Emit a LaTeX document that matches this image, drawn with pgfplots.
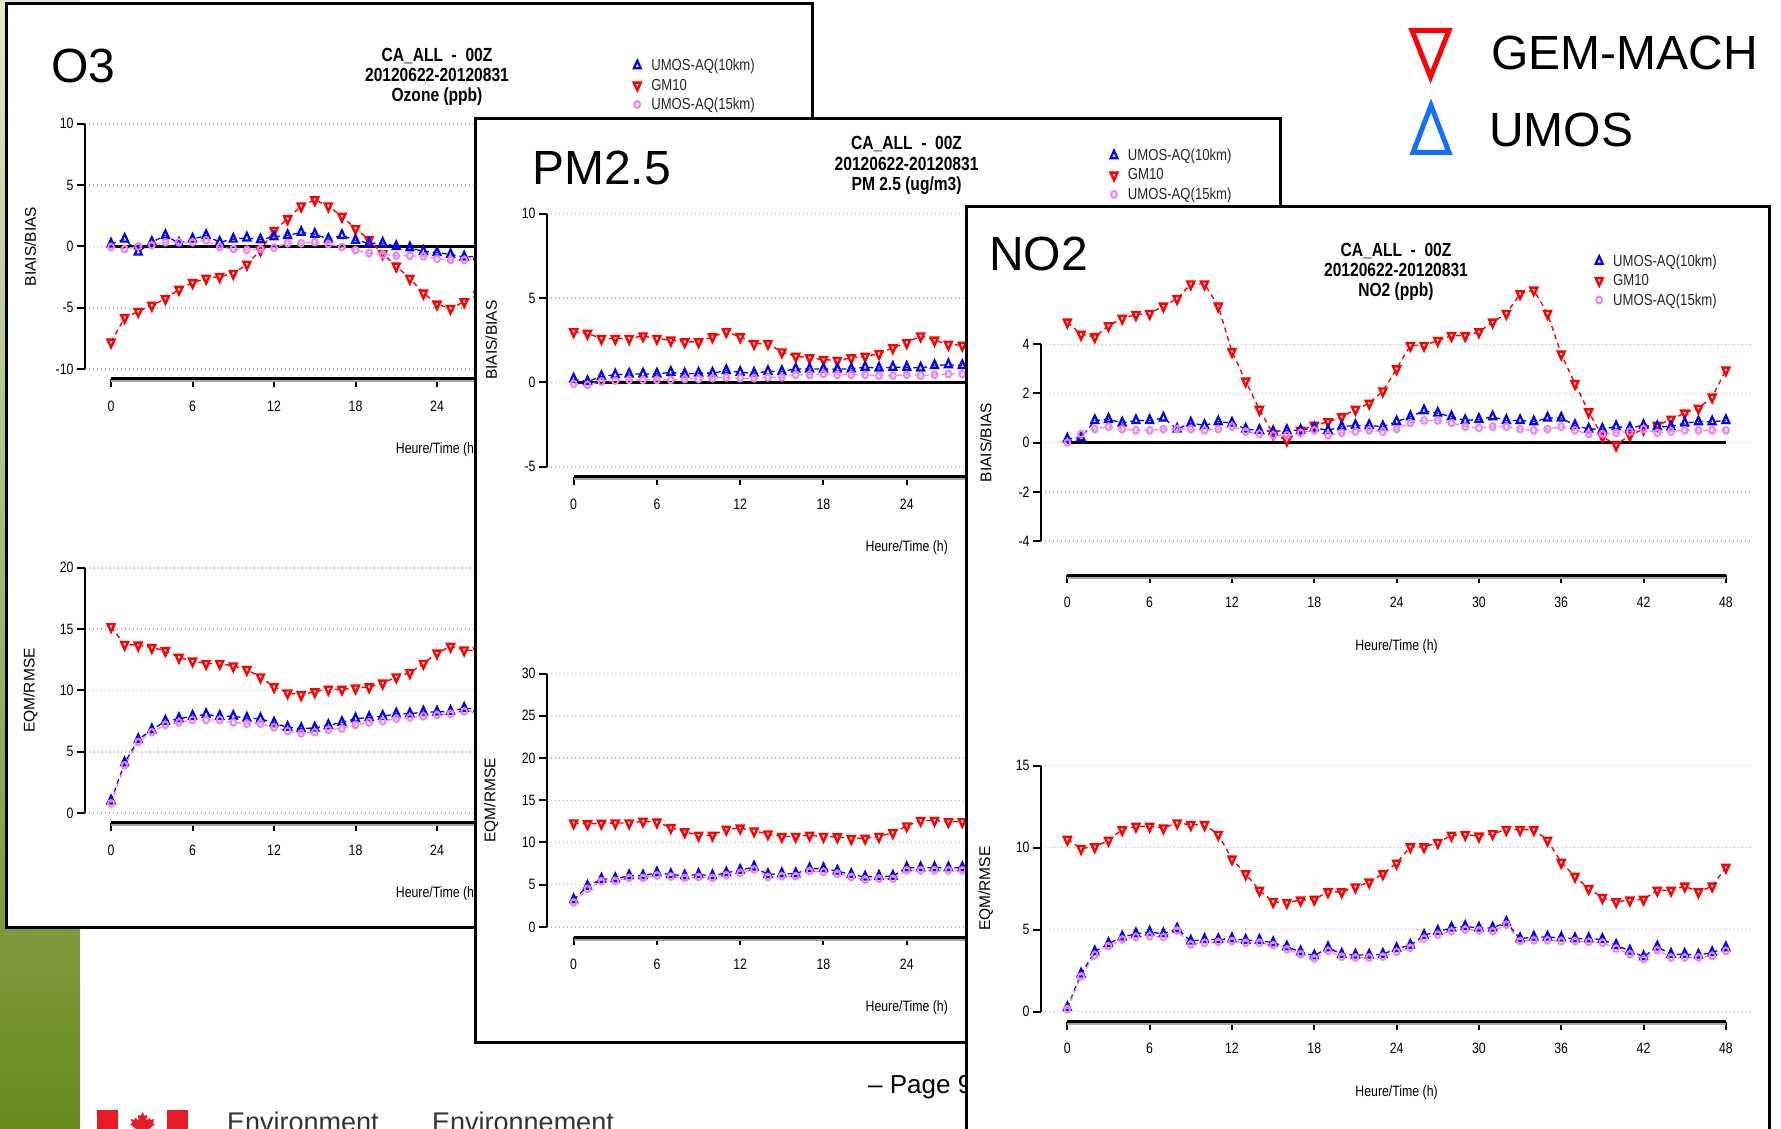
\documentclass[border=0pt]{standalone}
\usepackage{fontspec}
\setmainfont{Liberation Sans}
\newfontfamily\rfont[FakeStretch=0.82]{Liberation Sans}
\usepackage{pgfplots}
\usepackage{pgfplotstable}
\pgfplotsset{compat=1.18}

\definecolor{rblue}{RGB}{0,0,255}
\definecolor{rred}{RGB}{255,0,0}
\definecolor{rviolet}{RGB}{238,130,238}
\definecolor{lblue}{RGB}{20,110,255}
\definecolor{cared}{RGB}{232,27,40}
\definecolor{gtop}{RGB}{226,231,206}
\definecolor{gmid}{RGB}{150,172,80}
\definecolor{gbot}{RGB}{104,138,30}

% h  u10 (UMOS-AQ 10km)  gm (GM10)  u15 (UMOS-AQ 15km)
\pgfplotstableread{
h u10 gm u15
0 0.2 -7.8 -0.05
1 0.6 -5.8 -0.2
2 -0.45 -5.3 0.0
3 0.35 -4.8 0.1
4 0.9 -4.25 0.35
5 0.27 -3.5 0.35
6 0.6 -2.95 0.35
7 0.9 -2.6 0.5
8 0.35 -2.45 -0.05
9 0.6 -2.2 -0.2
10 0.7 -1.45 -0.27
11 0.55 -0.3 -0.2
12 0.8 1.3 -0.1
13 0.9 2.25 0.27
14 1.15 3.3 0.27
15 1.0 3.8 0.35
16 0.6 3.3 0.2
17 0.9 2.45 -0.05
18 0.5 1.45 -0.3
19 0.27 0.55 -0.55
20 0.27 -0.6 -0.65
21 0.0 -1.6 -0.75
22 -0.1 -2.6 -0.75
23 -0.4 -3.8 -0.8
24 -0.5 -4.7 -1.0
25 -0.65 -5.05 -1.1
26 -0.85 -4.5 -1.1
27 -0.8 -3.9 -1.1
}\othreebias

\pgfplotstableread{
h u10 gm u15
0 1.0 15.2 0.8
1 4.1 13.75 3.9
2 6.0 13.7 5.8
3 6.8 13.5 6.6
4 7.5 13.25 7.2
5 7.7 12.7 7.4
6 7.9 12.4 7.6
7 8.05 12.2 7.6
8 7.9 12.2 7.6
9 7.9 12.0 7.4
10 7.75 11.7 7.3
11 7.7 11.1 7.3
12 7.35 10.3 7.0
13 7.0 9.8 6.7
14 6.9 9.65 6.5
15 6.95 9.9 6.6
16 7.15 10.1 6.8
17 7.4 10.1 6.9
18 7.7 10.2 7.2
19 7.8 10.3 7.4
20 7.9 10.6 7.5
21 8.1 11.1 7.7
22 8.1 11.45 7.8
23 8.25 12.2 7.9
24 8.25 13.05 8.0
25 8.3 13.6 8.1
26 8.55 13.3 8.3
27 8.5 13.25 8.3
}\othreermse

\pgfplotstableread{
h u10 gm u15
0 0.2 3.0 -0.08
1 0.05 2.9 -0.15
2 0.35 2.6 0.05
3 0.45 2.6 0.1
4 0.5 2.6 0.15
5 0.5 2.75 0.15
6 0.5 2.6 0.15
7 0.6 2.5 0.15
8 0.5 2.4 0.2
9 0.55 2.4 0.2
10 0.55 2.7 0.25
11 0.7 3.0 0.3
12 0.6 2.7 0.25
13 0.55 2.3 0.25
14 0.65 2.3 0.3
15 0.65 1.8 0.3
16 0.8 1.55 0.45
17 0.8 1.45 0.45
18 0.8 1.35 0.5
19 0.8 1.3 0.45
20 0.8 1.45 0.45
21 0.9 1.55 0.45
22 0.85 1.7 0.4
23 0.9 2.05 0.4
24 0.9 2.35 0.45
25 0.85 2.75 0.4
26 1.0 2.5 0.45
27 1.05 2.25 0.5
28 1.0 2.2 0.5
}\pmbias

\pgfplotstableread{
h u10 gm u15
0 3.2 12.3 2.9
1 4.8 12.2 4.5
2 5.65 12.25 5.4
3 5.7 12.3 5.45
4 6.05 12.3 5.8
5 6.05 12.5 5.8
6 6.4 12.4 6.1
7 6.2 11.75 5.95
8 6.05 11.25 5.8
9 6.2 10.85 5.9
10 6.05 10.85 5.8
11 6.4 11.55 6.1
12 6.7 11.7 6.4
13 7.1 11.35 6.8
14 6.2 11.0 5.9
15 6.3 10.7 6.0
16 6.3 10.7 6.0
17 6.9 10.85 6.6
18 6.9 10.7 6.5
19 6.6 10.65 6.3
20 6.2 10.45 5.9
21 5.9 10.5 5.6
22 6.0 10.7 5.7
23 6.0 11.15 5.7
24 7.0 11.95 6.7
25 7.0 12.6 6.7
26 7.0 12.6 6.7
27 7.0 12.45 6.7
28 7.0 12.45 6.7
}\pmrmse

\pgfplotstableread{
h u10 gm u15
0 0.15 4.9 0.0
1 0.2 4.4 0.35
2 0.9 4.3 0.55
3 0.95 4.75 0.65
4 0.8 5.05 0.55
5 0.9 5.2 0.5
6 0.9 5.25 0.5
7 1.0 5.55 0.55
8 0.55 5.85 0.55
9 0.8 6.45 0.55
10 0.7 6.45 0.5
11 0.85 5.55 0.55
12 0.8 3.7 0.65
13 0.55 2.5 0.45
14 0.5 1.35 0.35
15 0.45 0.35 0.3
16 0.5 0.1 0.3
17 0.5 0.5 0.4
18 0.6 0.7 0.5
19 0.5 0.85 0.3
20 0.65 1.05 0.4
21 0.7 1.35 0.45
22 0.7 1.6 0.5
23 0.65 2.1 0.45
24 0.85 3.0 0.55
25 1.05 3.95 0.8
26 1.3 3.95 0.9
27 1.2 4.15 0.9
28 1.05 4.35 0.8
29 0.9 4.35 0.65
30 0.95 4.5 0.6
31 1.05 4.9 0.65
32 0.9 5.25 0.65
33 0.9 6.05 0.55
34 0.85 6.2 0.5
35 1.0 5.25 0.55
36 1.0 3.6 0.65
37 0.7 2.4 0.5
38 0.55 1.25 0.35
39 0.55 0.25 0.35
40 0.65 -0.1 0.4
41 0.6 0.3 0.45
42 0.7 0.55 0.55
43 0.65 0.7 0.4
44 0.65 0.95 0.45
45 0.8 1.2 0.5
46 0.85 1.4 0.5
47 0.85 1.85 0.5
48 0.9 2.95 0.5
}\notwobias

\pgfplotstableread{
h u10 gm u15
0 0.25 10.5 0.15
1 2.3 9.95 2.15
2 3.65 10.05 3.45
3 4.15 10.45 4.0
4 4.55 11.1 4.4
5 4.75 11.3 4.55
6 4.85 11.3 4.6
7 4.75 11.2 4.55
8 5.05 11.5 4.95
9 4.3 11.4 4.1
10 4.4 11.4 4.2
11 4.4 10.8 4.25
12 4.45 9.3 4.3
13 4.35 8.4 4.2
14 4.35 7.4 4.2
15 4.2 6.7 4.05
16 3.95 6.65 3.8
17 3.65 6.8 3.5
18 3.4 6.85 3.25
19 3.9 7.3 3.7
20 3.5 7.3 3.35
21 3.45 7.6 3.3
22 3.45 7.9 3.3
23 3.5 8.4 3.35
24 3.85 9.05 3.65
25 4.05 10.05 3.9
26 4.65 10.05 4.45
27 4.9 10.3 4.7
28 5.1 10.75 4.9
29 5.2 10.8 5.0
30 5.1 10.7 4.95
31 5.1 10.85 4.9
32 5.45 11.1 5.3
33 4.45 11.1 4.3
34 4.55 11.1 4.35
35 4.55 10.45 4.35
36 4.5 9.1 4.3
37 4.45 8.25 4.3
38 4.45 7.5 4.25
39 4.4 6.95 4.2
40 4.05 6.7 3.85
41 3.7 6.8 3.5
42 3.35 6.85 3.2
43 3.95 7.4 3.75
44 3.5 7.4 3.3
45 3.5 7.65 3.3
46 3.45 7.3 3.3
47 3.6 7.65 3.4
48 3.9 8.8 3.7
}\notwormse

\pgfplotsset{
  rplot/.style={
    scale only axis, clip=false,
    axis lines*=left, axis line style={draw=none},
    xmin=-1.92, xmax=49.92, xtick={0,6,...,48},
    tick align=outside, major tick length=8pt,
    tick style={black, line width=2pt},
    ymajorgrids, major grid style={gray!55, line width=1.4pt, dash pattern=on 1.4pt off 2.6pt},
    /pgf/number format/assume math mode=true,
    ticklabel style={font=\rfont\fontsize{15}{15}\selectfont},
    xticklabel style={yshift=-10pt},
    xlabel={Heure/Time (h)},
    every axis x label/.style={at={(axis description cs:0.5,0)}, anchor=center, yshift=-71pt,
      font=\rfont\fontsize{15}{15}\selectfont},
    every axis y label/.style={at={(axis description cs:-0.0775,0.5)}, rotate=90, anchor=center,
      font=\fontsize{15.5}{15.5}\selectfont},
    legend cell align=left,
    legend image code/.code={\draw[mark repeat=2,mark phase=2,##1] plot coordinates {(0pt,0pt)(6pt,0pt)(12pt,0pt)};},
    legend style={draw=none, fill=none, inner sep=0pt, row sep=3.5pt, column sep=9pt, anchor=north west,
      text=black!85, font=\rfont\fontsize{16}{16}\selectfont, nodes={inner sep=1.5pt}},
  },
  gm/.style={rred, line width=1.4pt, dash pattern=on 5pt off 4pt, mark=triangle*, mark size=5pt,
    mark options={solid, rotate=180, xscale=0.8, draw=rred, fill=white, line width=2.4pt}},
  uten/.style={rblue, line width=1.3pt, dash pattern=on 5pt off 4pt, mark=triangle, mark size=5pt,
    mark options={solid, xscale=0.8, line width=2.2pt}},
  ufif/.style={rviolet, line width=1.3pt, dash pattern=on 5pt off 4pt, mark=o, mark size=3.4pt,
    mark options={solid, xscale=0.85, line width=2pt}},
}

% R style axis lines: y axis from first to last tick, x axis from 0 to 48
\newcommand{\raxes}[3]{%
  \draw[black, line width=2pt] (axis cs:-1.92,#1) -- (axis cs:-1.92,#2);
  \draw[black!35, line width=2pt] ([yshift=-2.5pt]axis cs:0,#3) -- ([yshift=-2.5pt]axis cs:48,#3);
  \draw[black, line width=3pt] (axis cs:0,#3) -- (axis cs:48,#3);
}
\newcommand{\rlegend}{%
  \addlegendimage{uten, only marks}\addlegendentry{UMOS-AQ(10km)}
  \addlegendimage{gm, only marks}\addlegendentry{GM10}
  \addlegendimage{ufif, only marks}\addlegendentry{UMOS-AQ(15km)}
}
\newcommand{\rdata}[1]{%
  \addplot[gm, forget plot] table[x=h, y=gm] {#1};
  \addplot[uten, forget plot] table[x=h, y=u10] {#1};
  \addplot[ufif, forget plot] table[x=h, y=u15] {#1};
}

\tikzset{
  rtitle/.style={anchor=base, inner sep=0pt, font=\rfont\bfseries\fontsize{19}{19}\selectfont},
  big/.style={anchor=base west, inner sep=0pt, font=\fontsize{48}{48}\selectfont},
  panel/.style={fill=white, draw=black, line width=3pt},
}

\begin{document}
\begin{tikzpicture}[x=1pt,y=1pt]
\useasboundingbox (0,0) rectangle (1781,1128);
\clip (0,0) rectangle (1781,1128);
\fill[white] (0,0) rectangle (1781,1128);
\shade[top color=gtop, middle color=gmid, bottom color=gbot] (0,0) rectangle (80,1128);

% footer
\fill[cared] (97,18) rectangle (118,-12);
\fill[cared] (167,18) rectangle (188,-12);
\fill[cared, shift={(142.5,3)}, scale=13] (0,1) -- (0.15,0.7) -- (0.35,0.8) -- (0.3,0.35) -- (0.55,0.55)
  -- (0.6,0.4) -- (0.9,0.45) -- (0.8,0.15) -- (0.95,0.05) -- (0.5,-0.3) -- (0.55,-0.5) -- (0.08,-0.45)
  -- (0.08,-0.9) -- (-0.08,-0.9) -- (-0.08,-0.45) -- (-0.55,-0.5) -- (-0.5,-0.3) -- (-0.95,0.05)
  -- (-0.8,0.15) -- (-0.9,0.45) -- (-0.6,0.4) -- (-0.55,0.55) -- (-0.3,0.35) -- (-0.35,0.8) -- (-0.15,0.7) -- cycle;
\node[anchor=base west, inner sep=0pt, text=black!80, font=\fontsize{27}{27}\selectfont] at (227,-3) {Environment};
\node[anchor=base west, inner sep=0pt, text=black!80, font=\fontsize{27}{27}\selectfont] at (432,-3) {Environnement};
\node[anchor=base west, inner sep=0pt, font=\fontsize{26}{26}\selectfont] at (868,35) {– Page 9};

% key top right
\draw[rred, line width=5pt, line join=miter] (1412,1097.5) -- (1449,1097.5) -- (1430.5,1051) -- cycle;
\draw[lblue, line width=5pt, line join=miter] (1413,975.5) -- (1449,975.5) -- (1431,1022.5) -- cycle;
\node[big] at (1491,1058) {GEM-MACH};
\node[big] at (1489,981) {UMOS};

% ---------- O3 ----------
\filldraw[panel] (6,1124) rectangle (812,200);
\node[big] at (51,1045) {O3};
\node[rtitle] at (437,1066) {CA\_ALL \ - \ 00Z};
\node[rtitle] at (437,1046) {20120622-20120831};
\node[rtitle] at (437,1026) {Ozone (ppb)};
\begin{axis}[rplot, at={(85pt,749pt)}, anchor=south west, width=704pt, height=265pt,
  ymin=-10.8, ymax=10.8, ytick={-10,-5,0,5,10}, ylabel={BIAIS/BIAS},
  legend style={at={(axis cs:38.48,15.4)}}]
\rlegend
\addplot[black, line width=3pt, forget plot] coordinates {(0,0) (48,0)};
\rdata{\othreebias}
\raxes{-10}{10}{-10.8}
\end{axis}
\begin{axis}[rplot, at={(85pt,305pt)}, anchor=south west, width=704pt, height=265pt,
  ymin=-0.8, ymax=20.8, ytick={0,5,10,15,20}, ylabel={EQM/RMSE}]
\rdata{\othreermse}
\raxes{0}{20}{-0.8}
\end{axis}

% ---------- PM2.5 ----------
\filldraw[panel] (475,1009) rectangle (1280,86);
\node[big] at (532,943) {PM2.5};
\node[rtitle] at (906.6,978) {CA\_ALL \ - \ 00Z};
\node[rtitle] at (906.6,957) {20120622-20120831};
\node[rtitle] at (906.6,937) {PM 2.5 (ug/m3)};
\begin{axis}[rplot, at={(547pt,651pt)}, anchor=south west, width=719.5pt, height=273.6pt,
  ymin=-5.6, ymax=10.6, ytick={-5,0,5,10}, ylabel={BIAIS/BIAS},
  legend style={at={(axis cs:38.67,13.91)}}]
\rlegend
\addplot[black, line width=3pt, forget plot] coordinates {(0,0) (48,0)};
\rdata{\pmbias}
\raxes{-5}{10}{-5.6}
\end{axis}
\begin{axis}[rplot, at={(547pt,191pt)}, anchor=south west, width=719.5pt, height=273.6pt,
  ymin=-1.2, ymax=31.2, ytick={0,5,...,30}, ylabel={EQM/RMSE}]
\rdata{\pmrmse}
\raxes{0}{30}{-1.2}
\end{axis}

% ---------- NO2 ----------
\filldraw[panel] (966,921) rectangle (1769,-12);
\node[big] at (989,857) {NO2};
\node[rtitle] at (1396,871) {CA\_ALL \ - \ 00Z};
\node[rtitle] at (1396,851) {20120622-20120831};
\node[rtitle] at (1396,831) {NO2 (ppb)};
\begin{axis}[rplot, at={(1041pt,552.5pt)}, anchor=south west, width=711.2pt, height=265.7pt,
  ymin=-5.4, ymax=5.4, ytick={-4,-2,0,2,4}, ylabel={BIAIS/BIAS},
  legend style={at={(axis cs:38.5,7.71)}}]
\rlegend
\addplot[black, line width=3pt, forget plot] coordinates {(0,0) (48,0)};
\rdata{\notwobias}
\raxes{-4}{4}{-5.4}
\end{axis}
\begin{axis}[rplot, at={(1041pt,106.5pt)}, anchor=south west, width=711.2pt, height=265.7pt,
  ymin=-0.6, ymax=15.6, ytick={0,5,10,15}, ylabel={EQM/RMSE}]
\rdata{\notwormse}
\raxes{0}{15}{-0.6}
\end{axis}
\end{tikzpicture}
\end{document}
